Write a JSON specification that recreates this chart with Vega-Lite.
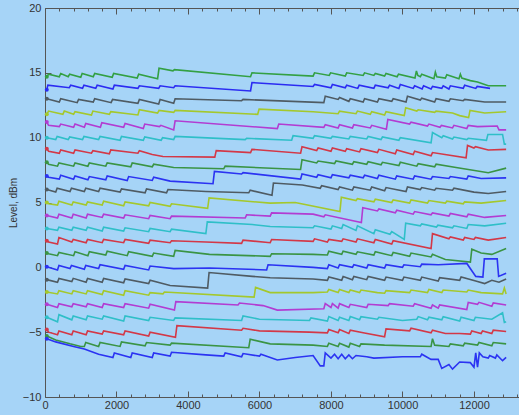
{
"$schema":"https://vega.github.io/schema/vega-lite/v6.json",
"autosize":{"type":"none"},
"padding":{"left":45,"top":8,"right":0,"bottom":18},
"width":474,"height":389,
"background":"#a6d4f7",
"config":{"view":{"stroke":null},"axis":{"domainColor":"#555","tickColor":"#555","labelColor":"#333","labelFont":"Liberation Sans","labelFontSize":11,"grid":false,"titleFont":"Liberation Sans","titleFontWeight":"normal","titleFontSize":10,"titleColor":"#333"}},
"data":{"values":[
{"s":"s01","x":50,"y":14.7},{"s":"s01","x":100,"y":14.9},{"s":"s01","x":400,"y":14.7},{"s":"s01","x":440,"y":14.95},{"s":"s01","x":650,"y":14.7},{"s":"s01","x":690,"y":14.9},{"s":"s01","x":1000,"y":14.65},{"s":"s01","x":1040,"y":14.95},{"s":"s01","x":1350,"y":14.7},{"s":"s01","x":1390,"y":14.95},{"s":"s01","x":1880,"y":14.65},{"s":"s01","x":1920,"y":14.95},{"s":"s01","x":2580,"y":14.6},{"s":"s01","x":2620,"y":14.9},{"s":"s01","x":3150,"y":14.55},{"s":"s01","x":3190,"y":15.35},{"s":"s01","x":3580,"y":15.15},{"s":"s01","x":3620,"y":15.25},{"s":"s01","x":5750,"y":14.7},{"s":"s01","x":5790,"y":15.0},{"s":"s01","x":7500,"y":14.75},{"s":"s01","x":7540,"y":15.0},{"s":"s01","x":7950,"y":14.8},{"s":"s01","x":7990,"y":15.0},{"s":"s01","x":8400,"y":14.75},{"s":"s01","x":8440,"y":15.0},{"s":"s01","x":8900,"y":14.8},{"s":"s01","x":8940,"y":15.0},{"s":"s01","x":9200,"y":14.8},{"s":"s01","x":9240,"y":14.95},{"s":"s01","x":9500,"y":14.75},{"s":"s01","x":9540,"y":14.95},{"s":"s01","x":9850,"y":14.7},{"s":"s01","x":9890,"y":14.9},{"s":"s01","x":10350,"y":14.6},{"s":"s01","x":10390,"y":15.15},{"s":"s01","x":10430,"y":14.8},{"s":"s01","x":10500,"y":14.7},{"s":"s01","x":10540,"y":14.9},{"s":"s01","x":10880,"y":14.55},{"s":"s01","x":10920,"y":15.05},{"s":"s01","x":10960,"y":14.7},{"s":"s01","x":11200,"y":14.6},{"s":"s01","x":11240,"y":14.85},{"s":"s01","x":11580,"y":14.55},{"s":"s01","x":11620,"y":14.9},{"s":"s01","x":11660,"y":14.6},{"s":"s01","x":11900,"y":14.4},{"s":"s01","x":12100,"y":14.3},{"s":"s01","x":12400,"y":14.0},{"s":"s01","x":12900,"y":14.0},
{"s":"s02","x":50,"y":13.7},{"s":"s02","x":80,"y":14.05},{"s":"s02","x":680,"y":13.85},{"s":"s02","x":720,"y":14.05},{"s":"s02","x":1050,"y":13.8},{"s":"s02","x":1090,"y":14.05},{"s":"s02","x":1420,"y":13.8},{"s":"s02","x":1460,"y":14.05},{"s":"s02","x":1900,"y":13.75},{"s":"s02","x":1940,"y":14.05},{"s":"s02","x":2600,"y":13.8},{"s":"s02","x":2640,"y":14.0},{"s":"s02","x":3180,"y":13.8},{"s":"s02","x":3220,"y":14.0},{"s":"s02","x":3600,"y":13.85},{"s":"s02","x":3640,"y":14.0},{"s":"s02","x":5750,"y":13.6},{"s":"s02","x":5790,"y":14.25},{"s":"s02","x":7500,"y":13.95},{"s":"s02","x":7540,"y":14.1},{"s":"s02","x":8000,"y":13.85},{"s":"s02","x":8040,"y":14.1},{"s":"s02","x":8400,"y":13.85},{"s":"s02","x":8440,"y":14.05},{"s":"s02","x":8750,"y":13.8},{"s":"s02","x":8790,"y":14.05},{"s":"s02","x":9200,"y":13.8},{"s":"s02","x":9240,"y":14.05},{"s":"s02","x":9600,"y":13.85},{"s":"s02","x":9640,"y":14.05},{"s":"s02","x":9900,"y":13.8},{"s":"s02","x":9940,"y":14.1},{"s":"s02","x":10300,"y":13.8},{"s":"s02","x":10340,"y":14.0},{"s":"s02","x":10550,"y":13.75},{"s":"s02","x":10590,"y":14.0},{"s":"s02","x":10800,"y":13.75},{"s":"s02","x":10840,"y":13.95},{"s":"s02","x":11100,"y":13.8},{"s":"s02","x":11140,"y":14.0},{"s":"s02","x":11300,"y":13.75},{"s":"s02","x":11340,"y":14.0},{"s":"s02","x":11700,"y":13.8},{"s":"s02","x":11740,"y":14.05},{"s":"s02","x":12050,"y":13.8},{"s":"s02","x":12090,"y":13.95},{"s":"s02","x":12450,"y":13.8},
{"s":"s03","x":50,"y":13.0},{"s":"s03","x":400,"y":12.75},{"s":"s03","x":440,"y":13.0},{"s":"s03","x":900,"y":12.7},{"s":"s03","x":940,"y":12.95},{"s":"s03","x":1350,"y":12.75},{"s":"s03","x":1390,"y":13.0},{"s":"s03","x":1850,"y":12.7},{"s":"s03","x":1890,"y":12.95},{"s":"s03","x":2600,"y":12.65},{"s":"s03","x":2640,"y":12.95},{"s":"s03","x":3180,"y":12.6},{"s":"s03","x":3220,"y":12.95},{"s":"s03","x":3600,"y":12.65},{"s":"s03","x":3640,"y":13.0},{"s":"s03","x":5500,"y":12.85},{"s":"s03","x":5540,"y":12.95},{"s":"s03","x":7800,"y":12.7},{"s":"s03","x":7840,"y":13.2},{"s":"s03","x":8200,"y":12.95},{"s":"s03","x":8240,"y":13.1},{"s":"s03","x":8500,"y":12.8},{"s":"s03","x":8540,"y":13.0},{"s":"s03","x":8900,"y":12.75},{"s":"s03","x":8940,"y":13.0},{"s":"s03","x":9300,"y":12.75},{"s":"s03","x":9340,"y":13.0},{"s":"s03","x":9700,"y":12.8},{"s":"s03","x":9740,"y":13.0},{"s":"s03","x":10100,"y":12.75},{"s":"s03","x":10140,"y":13.2},{"s":"s03","x":10500,"y":12.9},{"s":"s03","x":10540,"y":13.05},{"s":"s03","x":10900,"y":12.75},{"s":"s03","x":10940,"y":13.0},{"s":"s03","x":11300,"y":12.8},{"s":"s03","x":11340,"y":13.0},{"s":"s03","x":11700,"y":12.85},{"s":"s03","x":11740,"y":12.95},{"s":"s03","x":12300,"y":12.75},{"s":"s03","x":12900,"y":12.75},
{"s":"s04","x":50,"y":11.8},{"s":"s04","x":100,"y":12.05},{"s":"s04","x":500,"y":11.8},{"s":"s04","x":540,"y":12.05},{"s":"s04","x":800,"y":11.8},{"s":"s04","x":840,"y":12.0},{"s":"s04","x":1300,"y":11.75},{"s":"s04","x":1340,"y":12.05},{"s":"s04","x":1800,"y":11.8},{"s":"s04","x":1840,"y":12.0},{"s":"s04","x":2600,"y":11.75},{"s":"s04","x":2640,"y":12.15},{"s":"s04","x":3150,"y":11.9},{"s":"s04","x":3190,"y":12.1},{"s":"s04","x":3600,"y":11.95},{"s":"s04","x":3640,"y":12.1},{"s":"s04","x":5950,"y":11.8},{"s":"s04","x":5990,"y":12.2},{"s":"s04","x":7500,"y":12.0},{"s":"s04","x":8200,"y":11.85},{"s":"s04","x":8240,"y":12.05},{"s":"s04","x":8700,"y":11.85},{"s":"s04","x":8740,"y":12.05},{"s":"s04","x":9100,"y":11.8},{"s":"s04","x":9140,"y":12.0},{"s":"s04","x":9500,"y":11.75},{"s":"s04","x":9540,"y":12.0},{"s":"s04","x":10050,"y":11.7},{"s":"s04","x":10090,"y":12.3},{"s":"s04","x":10400,"y":12.05},{"s":"s04","x":10440,"y":12.15},{"s":"s04","x":10900,"y":11.95},{"s":"s04","x":10940,"y":12.05},{"s":"s04","x":11400,"y":11.9},{"s":"s04","x":11600,"y":11.7},{"s":"s04","x":11850,"y":11.55},{"s":"s04","x":11890,"y":12.1},{"s":"s04","x":12300,"y":11.9},{"s":"s04","x":12900,"y":12.0},
{"s":"s05","x":50,"y":11.2},{"s":"s05","x":100,"y":10.95},{"s":"s05","x":400,"y":10.85},{"s":"s05","x":440,"y":11.05},{"s":"s05","x":800,"y":10.8},{"s":"s05","x":840,"y":11.05},{"s":"s05","x":1100,"y":10.8},{"s":"s05","x":1140,"y":11.1},{"s":"s05","x":1550,"y":10.8},{"s":"s05","x":1590,"y":11.15},{"s":"s05","x":2200,"y":10.8},{"s":"s05","x":2240,"y":11.1},{"s":"s05","x":2750,"y":10.7},{"s":"s05","x":2790,"y":11.05},{"s":"s05","x":3200,"y":10.85},{"s":"s05","x":3240,"y":10.95},{"s":"s05","x":3600,"y":10.6},{"s":"s05","x":3640,"y":11.3},{"s":"s05","x":6500,"y":10.7},{"s":"s05","x":6540,"y":11.05},{"s":"s05","x":7800,"y":10.8},{"s":"s05","x":7840,"y":11.0},{"s":"s05","x":8200,"y":10.75},{"s":"s05","x":8240,"y":11.0},{"s":"s05","x":8600,"y":10.75},{"s":"s05","x":8640,"y":11.0},{"s":"s05","x":9100,"y":10.75},{"s":"s05","x":9140,"y":10.95},{"s":"s05","x":9550,"y":10.65},{"s":"s05","x":9590,"y":11.4},{"s":"s05","x":10200,"y":11.05},{"s":"s05","x":10240,"y":11.2},{"s":"s05","x":10700,"y":10.9},{"s":"s05","x":10740,"y":11.05},{"s":"s05","x":11050,"y":10.8},{"s":"s05","x":11090,"y":10.95},{"s":"s05","x":11400,"y":10.75},{"s":"s05","x":11440,"y":10.95},{"s":"s05","x":11800,"y":10.7},{"s":"s05","x":11840,"y":10.95},{"s":"s05","x":12100,"y":10.85},{"s":"s05","x":12650,"y":10.9},{"s":"s05","x":12700,"y":10.6},{"s":"s05","x":12900,"y":10.6},
{"s":"s06","x":50,"y":10.0},{"s":"s06","x":300,"y":9.85},{"s":"s06","x":340,"y":10.1},{"s":"s06","x":650,"y":9.85},{"s":"s06","x":690,"y":10.05},{"s":"s06","x":1050,"y":9.85},{"s":"s06","x":1090,"y":10.1},{"s":"s06","x":1500,"y":9.85},{"s":"s06","x":1540,"y":10.1},{"s":"s06","x":2100,"y":9.8},{"s":"s06","x":2140,"y":10.1},{"s":"s06","x":2750,"y":9.8},{"s":"s06","x":2790,"y":10.05},{"s":"s06","x":3250,"y":9.8},{"s":"s06","x":3290,"y":10.0},{"s":"s06","x":3600,"y":9.85},{"s":"s06","x":3640,"y":10.1},{"s":"s06","x":5600,"y":9.85},{"s":"s06","x":5640,"y":9.95},{"s":"s06","x":6900,"y":9.8},{"s":"s06","x":6940,"y":10.15},{"s":"s06","x":7500,"y":9.95},{"s":"s06","x":7540,"y":10.15},{"s":"s06","x":8000,"y":9.95},{"s":"s06","x":8040,"y":10.1},{"s":"s06","x":8500,"y":9.9},{"s":"s06","x":8540,"y":10.1},{"s":"s06","x":9000,"y":9.9},{"s":"s06","x":9040,"y":10.1},{"s":"s06","x":9400,"y":9.85},{"s":"s06","x":9440,"y":10.05},{"s":"s06","x":9900,"y":9.8},{"s":"s06","x":9940,"y":10.0},{"s":"s06","x":10800,"y":9.6},{"s":"s06","x":10840,"y":10.4},{"s":"s06","x":11100,"y":10.0},{"s":"s06","x":11140,"y":10.15},{"s":"s06","x":11400,"y":9.9},{"s":"s06","x":11440,"y":10.05},{"s":"s06","x":11800,"y":9.85},{"s":"s06","x":11840,"y":9.95},{"s":"s06","x":12350,"y":9.8},{"s":"s06","x":12390,"y":10.25},{"s":"s06","x":12800,"y":10.25},{"s":"s06","x":12850,"y":9.5},{"s":"s06","x":12900,"y":9.5},
{"s":"s07","x":50,"y":9.15},{"s":"s07","x":100,"y":8.95},{"s":"s07","x":400,"y":8.8},{"s":"s07","x":440,"y":9.05},{"s":"s07","x":800,"y":8.8},{"s":"s07","x":840,"y":9.05},{"s":"s07","x":1300,"y":8.8},{"s":"s07","x":1340,"y":9.0},{"s":"s07","x":1800,"y":8.75},{"s":"s07","x":1840,"y":9.05},{"s":"s07","x":2600,"y":8.8},{"s":"s07","x":2640,"y":9.0},{"s":"s07","x":3000,"y":8.7},{"s":"s07","x":3300,"y":8.55},{"s":"s07","x":4750,"y":8.5},{"s":"s07","x":4790,"y":9.0},{"s":"s07","x":5750,"y":8.85},{"s":"s07","x":5790,"y":9.1},{"s":"s07","x":7150,"y":8.8},{"s":"s07","x":7190,"y":9.3},{"s":"s07","x":7600,"y":9.0},{"s":"s07","x":7640,"y":9.2},{"s":"s07","x":8000,"y":8.95},{"s":"s07","x":8040,"y":9.2},{"s":"s07","x":8400,"y":8.95},{"s":"s07","x":8440,"y":9.15},{"s":"s07","x":8800,"y":8.9},{"s":"s07","x":8840,"y":9.15},{"s":"s07","x":9300,"y":8.85},{"s":"s07","x":9340,"y":9.1},{"s":"s07","x":9800,"y":8.75},{"s":"s07","x":9840,"y":9.05},{"s":"s07","x":10300,"y":8.7},{"s":"s07","x":10340,"y":8.95},{"s":"s07","x":10800,"y":8.6},{"s":"s07","x":10840,"y":8.85},{"s":"s07","x":11780,"y":8.45},{"s":"s07","x":11820,"y":9.4},{"s":"s07","x":12000,"y":9.2},{"s":"s07","x":12040,"y":9.3},{"s":"s07","x":12400,"y":9.05},{"s":"s07","x":12900,"y":9.1},
{"s":"s08","x":50,"y":8.1},{"s":"s08","x":100,"y":7.95},{"s":"s08","x":350,"y":7.8},{"s":"s08","x":390,"y":8.05},{"s":"s08","x":800,"y":7.8},{"s":"s08","x":840,"y":8.05},{"s":"s08","x":1200,"y":7.8},{"s":"s08","x":1240,"y":8.05},{"s":"s08","x":1700,"y":7.8},{"s":"s08","x":1740,"y":8.05},{"s":"s08","x":2400,"y":7.75},{"s":"s08","x":2440,"y":8.05},{"s":"s08","x":3000,"y":7.75},{"s":"s08","x":3040,"y":7.95},{"s":"s08","x":3600,"y":7.7},{"s":"s08","x":5000,"y":7.6},{"s":"s08","x":5040,"y":7.8},{"s":"s08","x":7150,"y":7.55},{"s":"s08","x":7190,"y":8.3},{"s":"s08","x":7600,"y":8.05},{"s":"s08","x":7640,"y":8.2},{"s":"s08","x":8100,"y":8.0},{"s":"s08","x":8140,"y":8.2},{"s":"s08","x":8600,"y":7.95},{"s":"s08","x":8640,"y":8.15},{"s":"s08","x":9000,"y":7.95},{"s":"s08","x":9040,"y":8.15},{"s":"s08","x":9400,"y":7.9},{"s":"s08","x":9440,"y":8.1},{"s":"s08","x":9900,"y":7.85},{"s":"s08","x":9940,"y":8.1},{"s":"s08","x":10400,"y":7.8},{"s":"s08","x":10440,"y":8.0},{"s":"s08","x":10900,"y":7.75},{"s":"s08","x":10940,"y":7.95},{"s":"s08","x":11500,"y":7.7},{"s":"s08","x":12400,"y":7.3},{"s":"s08","x":12900,"y":7.65},
{"s":"s09","x":50,"y":7.05},{"s":"s09","x":100,"y":6.95},{"s":"s09","x":400,"y":6.8},{"s":"s09","x":440,"y":7.1},{"s":"s09","x":800,"y":6.8},{"s":"s09","x":840,"y":7.05},{"s":"s09","x":1200,"y":6.75},{"s":"s09","x":1240,"y":7.0},{"s":"s09","x":1700,"y":6.75},{"s":"s09","x":1740,"y":7.05},{"s":"s09","x":2300,"y":6.7},{"s":"s09","x":2340,"y":7.0},{"s":"s09","x":3000,"y":6.7},{"s":"s09","x":3040,"y":6.95},{"s":"s09","x":3500,"y":6.65},{"s":"s09","x":4700,"y":6.45},{"s":"s09","x":4740,"y":7.4},{"s":"s09","x":5500,"y":7.2},{"s":"s09","x":5540,"y":7.3},{"s":"s09","x":7150,"y":6.8},{"s":"s09","x":7190,"y":7.2},{"s":"s09","x":7600,"y":6.95},{"s":"s09","x":7640,"y":7.15},{"s":"s09","x":8000,"y":6.9},{"s":"s09","x":8040,"y":7.15},{"s":"s09","x":8500,"y":6.9},{"s":"s09","x":8540,"y":7.1},{"s":"s09","x":8900,"y":6.9},{"s":"s09","x":8940,"y":7.1},{"s":"s09","x":9300,"y":6.85},{"s":"s09","x":9340,"y":7.1},{"s":"s09","x":9800,"y":6.8},{"s":"s09","x":9840,"y":7.05},{"s":"s09","x":10300,"y":6.8},{"s":"s09","x":10340,"y":7.05},{"s":"s09","x":10800,"y":6.8},{"s":"s09","x":10840,"y":7.0},{"s":"s09","x":11300,"y":6.85},{"s":"s09","x":11340,"y":7.0},{"s":"s09","x":11800,"y":6.8},{"s":"s09","x":11840,"y":7.05},{"s":"s09","x":12200,"y":6.85},{"s":"s09","x":12900,"y":6.9},
{"s":"s10","x":50,"y":6.0},{"s":"s10","x":300,"y":5.8},{"s":"s10","x":340,"y":6.1},{"s":"s10","x":700,"y":5.85},{"s":"s10","x":740,"y":6.1},{"s":"s10","x":1100,"y":5.85},{"s":"s10","x":1140,"y":6.1},{"s":"s10","x":1500,"y":5.85},{"s":"s10","x":1540,"y":6.1},{"s":"s10","x":2100,"y":5.8},{"s":"s10","x":2140,"y":6.05},{"s":"s10","x":2800,"y":5.75},{"s":"s10","x":2840,"y":6.05},{"s":"s10","x":3400,"y":5.75},{"s":"s10","x":3440,"y":6.0},{"s":"s10","x":4500,"y":5.85},{"s":"s10","x":5700,"y":5.75},{"s":"s10","x":5740,"y":5.95},{"s":"s10","x":6350,"y":5.55},{"s":"s10","x":6390,"y":6.5},{"s":"s10","x":7200,"y":6.35},{"s":"s10","x":7700,"y":6.1},{"s":"s10","x":7740,"y":6.3},{"s":"s10","x":8200,"y":6.0},{"s":"s10","x":8240,"y":6.2},{"s":"s10","x":8600,"y":5.95},{"s":"s10","x":8640,"y":6.2},{"s":"s10","x":9100,"y":5.95},{"s":"s10","x":9140,"y":6.2},{"s":"s10","x":9500,"y":5.9},{"s":"s10","x":9540,"y":6.15},{"s":"s10","x":10100,"y":5.85},{"s":"s10","x":10140,"y":6.2},{"s":"s10","x":10500,"y":6.0},{"s":"s10","x":10540,"y":6.15},{"s":"s10","x":10900,"y":5.95},{"s":"s10","x":10940,"y":6.1},{"s":"s10","x":11400,"y":5.95},{"s":"s10","x":11440,"y":6.1},{"s":"s10","x":12000,"y":5.8},{"s":"s10","x":12400,"y":5.7},{"s":"s10","x":12900,"y":5.85},
{"s":"s11","x":50,"y":5.0},{"s":"s11","x":100,"y":4.9},{"s":"s11","x":350,"y":4.8},{"s":"s11","x":390,"y":5.1},{"s":"s11","x":750,"y":4.8},{"s":"s11","x":790,"y":5.05},{"s":"s11","x":1150,"y":4.8},{"s":"s11","x":1190,"y":5.05},{"s":"s11","x":1600,"y":4.8},{"s":"s11","x":1640,"y":5.1},{"s":"s11","x":2200,"y":4.75},{"s":"s11","x":2240,"y":5.05},{"s":"s11","x":2900,"y":4.75},{"s":"s11","x":2940,"y":5.0},{"s":"s11","x":3500,"y":4.7},{"s":"s11","x":3540,"y":4.9},{"s":"s11","x":4550,"y":4.55},{"s":"s11","x":4590,"y":5.35},{"s":"s11","x":6300,"y":4.95},{"s":"s11","x":7000,"y":5.0},{"s":"s11","x":8250,"y":4.3},{"s":"s11","x":8290,"y":5.4},{"s":"s11","x":8700,"y":5.15},{"s":"s11","x":8740,"y":5.3},{"s":"s11","x":9200,"y":5.05},{"s":"s11","x":9240,"y":5.25},{"s":"s11","x":9700,"y":5.0},{"s":"s11","x":9740,"y":5.2},{"s":"s11","x":10200,"y":4.95},{"s":"s11","x":10240,"y":5.2},{"s":"s11","x":10700,"y":4.95},{"s":"s11","x":10740,"y":5.15},{"s":"s11","x":11200,"y":4.95},{"s":"s11","x":11240,"y":5.1},{"s":"s11","x":11700,"y":4.9},{"s":"s11","x":11740,"y":5.05},{"s":"s11","x":12200,"y":4.95},{"s":"s11","x":12900,"y":5.15},
{"s":"s12","x":50,"y":4.0},{"s":"s12","x":350,"y":3.8},{"s":"s12","x":390,"y":4.1},{"s":"s12","x":750,"y":3.8},{"s":"s12","x":790,"y":4.1},{"s":"s12","x":1150,"y":3.8},{"s":"s12","x":1190,"y":4.1},{"s":"s12","x":1600,"y":3.85},{"s":"s12","x":1640,"y":4.1},{"s":"s12","x":2200,"y":3.8},{"s":"s12","x":2240,"y":4.05},{"s":"s12","x":2900,"y":3.75},{"s":"s12","x":2940,"y":4.0},{"s":"s12","x":3500,"y":3.75},{"s":"s12","x":3540,"y":3.95},{"s":"s12","x":5600,"y":3.8},{"s":"s12","x":5640,"y":4.05},{"s":"s12","x":6300,"y":3.95},{"s":"s12","x":6340,"y":4.2},{"s":"s12","x":7500,"y":4.1},{"s":"s12","x":7800,"y":3.9},{"s":"s12","x":7840,"y":4.05},{"s":"s12","x":8850,"y":3.45},{"s":"s12","x":8890,"y":4.6},{"s":"s12","x":9300,"y":4.35},{"s":"s12","x":9340,"y":4.5},{"s":"s12","x":9800,"y":4.2},{"s":"s12","x":9840,"y":4.4},{"s":"s12","x":10300,"y":4.1},{"s":"s12","x":10340,"y":4.3},{"s":"s12","x":10800,"y":4.05},{"s":"s12","x":10840,"y":4.2},{"s":"s12","x":11300,"y":3.95},{"s":"s12","x":11340,"y":4.15},{"s":"s12","x":11800,"y":3.9},{"s":"s12","x":11840,"y":4.1},{"s":"s12","x":12300,"y":3.85},{"s":"s12","x":12900,"y":4.0},
{"s":"s13","x":50,"y":3.0},{"s":"s13","x":350,"y":2.85},{"s":"s13","x":390,"y":3.1},{"s":"s13","x":750,"y":2.85},{"s":"s13","x":790,"y":3.1},{"s":"s13","x":1150,"y":2.85},{"s":"s13","x":1190,"y":3.1},{"s":"s13","x":1600,"y":2.8},{"s":"s13","x":1640,"y":3.1},{"s":"s13","x":2200,"y":2.8},{"s":"s13","x":2240,"y":3.05},{"s":"s13","x":2900,"y":2.75},{"s":"s13","x":2940,"y":3.0},{"s":"s13","x":3500,"y":2.75},{"s":"s13","x":3540,"y":2.95},{"s":"s13","x":4500,"y":2.6},{"s":"s13","x":4540,"y":3.5},{"s":"s13","x":5800,"y":3.3},{"s":"s13","x":6300,"y":3.15},{"s":"s13","x":7500,"y":3.05},{"s":"s13","x":7540,"y":3.2},{"s":"s13","x":8000,"y":2.95},{"s":"s13","x":8040,"y":3.2},{"s":"s13","x":8300,"y":3.0},{"s":"s13","x":8340,"y":3.3},{"s":"s13","x":8700,"y":2.85},{"s":"s13","x":8740,"y":3.2},{"s":"s13","x":9200,"y":2.6},{"s":"s13","x":9240,"y":2.9},{"s":"s13","x":9650,"y":2.55},{"s":"s13","x":9700,"y":2.75},{"s":"s13","x":10050,"y":2.15},{"s":"s13","x":10090,"y":3.4},{"s":"s13","x":10500,"y":3.2},{"s":"s13","x":10540,"y":3.35},{"s":"s13","x":10950,"y":3.1},{"s":"s13","x":10990,"y":3.25},{"s":"s13","x":11400,"y":3.05},{"s":"s13","x":11440,"y":3.2},{"s":"s13","x":11800,"y":3.0},{"s":"s13","x":11840,"y":3.3},{"s":"s13","x":12300,"y":3.2},{"s":"s13","x":12900,"y":3.4},
{"s":"s14","x":50,"y":2.05},{"s":"s14","x":100,"y":1.95},{"s":"s14","x":350,"y":1.8},{"s":"s14","x":390,"y":2.3},{"s":"s14","x":750,"y":1.95},{"s":"s14","x":790,"y":2.15},{"s":"s14","x":1150,"y":1.9},{"s":"s14","x":1190,"y":2.15},{"s":"s14","x":1600,"y":1.9},{"s":"s14","x":1640,"y":2.15},{"s":"s14","x":2200,"y":1.9},{"s":"s14","x":2240,"y":2.15},{"s":"s14","x":2900,"y":1.85},{"s":"s14","x":2940,"y":2.1},{"s":"s14","x":3500,"y":1.9},{"s":"s14","x":3540,"y":2.05},{"s":"s14","x":4500,"y":1.95},{"s":"s14","x":5500,"y":1.85},{"s":"s14","x":5540,"y":2.1},{"s":"s14","x":6300,"y":1.9},{"s":"s14","x":6340,"y":2.15},{"s":"s14","x":7500,"y":2.0},{"s":"s14","x":7540,"y":2.2},{"s":"s14","x":7900,"y":1.95},{"s":"s14","x":7940,"y":2.15},{"s":"s14","x":8300,"y":2.0},{"s":"s14","x":8340,"y":2.2},{"s":"s14","x":8700,"y":1.95},{"s":"s14","x":8740,"y":2.2},{"s":"s14","x":9200,"y":1.9},{"s":"s14","x":9240,"y":2.15},{"s":"s14","x":9700,"y":1.8},{"s":"s14","x":9740,"y":2.05},{"s":"s14","x":10800,"y":1.45},{"s":"s14","x":10840,"y":2.6},{"s":"s14","x":11300,"y":2.2},{"s":"s14","x":11340,"y":2.35},{"s":"s14","x":11700,"y":2.1},{"s":"s14","x":11740,"y":2.3},{"s":"s14","x":12000,"y":2.15},{"s":"s14","x":12040,"y":2.3},{"s":"s14","x":12400,"y":2.1},{"s":"s14","x":12900,"y":2.3},
{"s":"s15","x":50,"y":1.1},{"s":"s15","x":100,"y":1.05},{"s":"s15","x":350,"y":0.9},{"s":"s15","x":390,"y":1.15},{"s":"s15","x":800,"y":0.9},{"s":"s15","x":840,"y":1.2},{"s":"s15","x":1200,"y":0.9},{"s":"s15","x":1240,"y":1.2},{"s":"s15","x":1700,"y":0.95},{"s":"s15","x":1740,"y":1.25},{"s":"s15","x":2300,"y":0.9},{"s":"s15","x":2340,"y":1.2},{"s":"s15","x":3000,"y":0.85},{"s":"s15","x":3040,"y":1.1},{"s":"s15","x":3600,"y":0.85},{"s":"s15","x":3640,"y":1.3},{"s":"s15","x":4600,"y":1.0},{"s":"s15","x":6300,"y":0.85},{"s":"s15","x":6340,"y":1.05},{"s":"s15","x":7500,"y":1.0},{"s":"s15","x":7900,"y":0.95},{"s":"s15","x":7940,"y":1.25},{"s":"s15","x":8300,"y":1.0},{"s":"s15","x":8340,"y":1.25},{"s":"s15","x":8700,"y":1.0},{"s":"s15","x":8740,"y":1.2},{"s":"s15","x":9200,"y":0.95},{"s":"s15","x":9240,"y":1.2},{"s":"s15","x":9700,"y":0.9},{"s":"s15","x":9740,"y":1.15},{"s":"s15","x":10200,"y":0.85},{"s":"s15","x":10240,"y":1.1},{"s":"s15","x":10800,"y":0.8},{"s":"s15","x":10840,"y":1.0},{"s":"s15","x":11200,"y":0.6},{"s":"s15","x":11900,"y":0.4},{"s":"s15","x":11940,"y":1.4},{"s":"s15","x":12200,"y":1.1},{"s":"s15","x":12500,"y":1.0},{"s":"s15","x":12900,"y":1.45},
{"s":"s16","x":50,"y":0.05},{"s":"s16","x":350,"y":-0.2},{"s":"s16","x":390,"y":0.15},{"s":"s16","x":700,"y":-0.1},{"s":"s16","x":740,"y":0.15},{"s":"s16","x":1100,"y":-0.15},{"s":"s16","x":1140,"y":0.15},{"s":"s16","x":1500,"y":-0.1},{"s":"s16","x":1540,"y":0.2},{"s":"s16","x":2200,"y":-0.15},{"s":"s16","x":2240,"y":0.15},{"s":"s16","x":2900,"y":-0.2},{"s":"s16","x":2940,"y":0.1},{"s":"s16","x":3600,"y":-0.1},{"s":"s16","x":4600,"y":-0.05},{"s":"s16","x":6200,"y":-0.2},{"s":"s16","x":6240,"y":0.2},{"s":"s16","x":7500,"y":0.0},{"s":"s16","x":7900,"y":-0.1},{"s":"s16","x":7940,"y":0.2},{"s":"s16","x":8200,"y":-0.05},{"s":"s16","x":8240,"y":0.2},{"s":"s16","x":8600,"y":0.0},{"s":"s16","x":8640,"y":0.2},{"s":"s16","x":9000,"y":-0.05},{"s":"s16","x":9040,"y":0.2},{"s":"s16","x":9500,"y":-0.05},{"s":"s16","x":9540,"y":0.2},{"s":"s16","x":10000,"y":0.0},{"s":"s16","x":10040,"y":0.2},{"s":"s16","x":10500,"y":0.05},{"s":"s16","x":10540,"y":0.25},{"s":"s16","x":11000,"y":0.2},{"s":"s16","x":11800,"y":0.3},{"s":"s16","x":12050,"y":-0.7},{"s":"s16","x":12250,"y":-0.75},{"s":"s16","x":12290,"y":0.65},{"s":"s16","x":12650,"y":0.65},{"s":"s16","x":12690,"y":-0.7},{"s":"s16","x":12900,"y":-0.45},
{"s":"s17","x":50,"y":-0.95},{"s":"s17","x":350,"y":-1.15},{"s":"s17","x":390,"y":-0.85},{"s":"s17","x":750,"y":-1.1},{"s":"s17","x":790,"y":-0.85},{"s":"s17","x":1150,"y":-1.15},{"s":"s17","x":1190,"y":-0.85},{"s":"s17","x":1600,"y":-1.15},{"s":"s17","x":1640,"y":-0.85},{"s":"s17","x":2200,"y":-1.2},{"s":"s17","x":2240,"y":-0.9},{"s":"s17","x":2900,"y":-1.25},{"s":"s17","x":2940,"y":-1.0},{"s":"s17","x":3500,"y":-1.4},{"s":"s17","x":4550,"y":-1.6},{"s":"s17","x":4590,"y":-0.4},{"s":"s17","x":5800,"y":-0.7},{"s":"s17","x":6300,"y":-0.8},{"s":"s17","x":7500,"y":-0.9},{"s":"s17","x":7900,"y":-1.0},{"s":"s17","x":7940,"y":-0.75},{"s":"s17","x":8300,"y":-1.0},{"s":"s17","x":8340,"y":-0.7},{"s":"s17","x":8600,"y":-0.95},{"s":"s17","x":8640,"y":-0.7},{"s":"s17","x":9000,"y":-0.95},{"s":"s17","x":9040,"y":-0.7},{"s":"s17","x":9500,"y":-1.0},{"s":"s17","x":9540,"y":-0.75},{"s":"s17","x":10000,"y":-1.0},{"s":"s17","x":10040,"y":-0.75},{"s":"s17","x":10500,"y":-1.0},{"s":"s17","x":10540,"y":-0.75},{"s":"s17","x":11000,"y":-1.05},{"s":"s17","x":11040,"y":-0.8},{"s":"s17","x":11600,"y":-1.0},{"s":"s17","x":11640,"y":-0.75},{"s":"s17","x":12050,"y":-1.05},{"s":"s17","x":12300,"y":-1.25},{"s":"s17","x":12500,"y":-1.0},{"s":"s17","x":12700,"y":-1.15},{"s":"s17","x":12900,"y":-0.9},
{"s":"s18","x":50,"y":-1.9},{"s":"s18","x":350,"y":-2.05},{"s":"s18","x":390,"y":-1.8},{"s":"s18","x":750,"y":-2.05},{"s":"s18","x":790,"y":-1.8},{"s":"s18","x":1150,"y":-2.05},{"s":"s18","x":1190,"y":-1.8},{"s":"s18","x":1600,"y":-2.1},{"s":"s18","x":1640,"y":-1.8},{"s":"s18","x":2200,"y":-2.15},{"s":"s18","x":2240,"y":-1.8},{"s":"s18","x":2900,"y":-2.15},{"s":"s18","x":2940,"y":-1.95},{"s":"s18","x":3300,"y":-2.05},{"s":"s18","x":3340,"y":-1.9},{"s":"s18","x":5850,"y":-2.3},{"s":"s18","x":5890,"y":-1.55},{"s":"s18","x":6300,"y":-1.95},{"s":"s18","x":7500,"y":-1.95},{"s":"s18","x":7900,"y":-1.9},{"s":"s18","x":7940,"y":-1.7},{"s":"s18","x":8200,"y":-1.95},{"s":"s18","x":8240,"y":-1.7},{"s":"s18","x":8500,"y":-1.95},{"s":"s18","x":8540,"y":-1.75},{"s":"s18","x":8800,"y":-1.95},{"s":"s18","x":8840,"y":-1.75},{"s":"s18","x":9300,"y":-1.95},{"s":"s18","x":9500,"y":-2.0},{"s":"s18","x":9540,"y":-1.8},{"s":"s18","x":10200,"y":-1.95},{"s":"s18","x":10240,"y":-1.75},{"s":"s18","x":10700,"y":-1.95},{"s":"s18","x":10740,"y":-1.7},{"s":"s18","x":11100,"y":-1.95},{"s":"s18","x":11140,"y":-1.75},{"s":"s18","x":11800,"y":-1.9},{"s":"s18","x":11840,"y":-1.75},{"s":"s18","x":12200,"y":-1.95},{"s":"s18","x":12800,"y":-2.05},{"s":"s18","x":12850,"y":-1.6},{"s":"s18","x":12900,"y":-2.05},
{"s":"s19","x":50,"y":-2.85},{"s":"s19","x":350,"y":-3.1},{"s":"s19","x":390,"y":-2.8},{"s":"s19","x":750,"y":-3.05},{"s":"s19","x":790,"y":-2.8},{"s":"s19","x":1150,"y":-3.05},{"s":"s19","x":1190,"y":-2.8},{"s":"s19","x":1600,"y":-3.1},{"s":"s19","x":1640,"y":-2.8},{"s":"s19","x":2200,"y":-3.1},{"s":"s19","x":2240,"y":-2.8},{"s":"s19","x":2900,"y":-3.15},{"s":"s19","x":2940,"y":-2.85},{"s":"s19","x":3620,"y":-3.3},{"s":"s19","x":3660,"y":-2.65},{"s":"s19","x":5400,"y":-2.9},{"s":"s19","x":5440,"y":-2.75},{"s":"s19","x":6100,"y":-2.95},{"s":"s19","x":6500,"y":-3.3},{"s":"s19","x":7800,"y":-3.2},{"s":"s19","x":7840,"y":-2.8},{"s":"s19","x":8000,"y":-3.1},{"s":"s19","x":8040,"y":-2.8},{"s":"s19","x":8200,"y":-3.15},{"s":"s19","x":8240,"y":-2.8},{"s":"s19","x":8500,"y":-3.1},{"s":"s19","x":8540,"y":-2.85},{"s":"s19","x":9000,"y":-3.1},{"s":"s19","x":9040,"y":-2.85},{"s":"s19","x":9600,"y":-2.95},{"s":"s19","x":9640,"y":-2.8},{"s":"s19","x":10300,"y":-3.0},{"s":"s19","x":10340,"y":-2.8},{"s":"s19","x":10800,"y":-3.15},{"s":"s19","x":10840,"y":-2.9},{"s":"s19","x":11000,"y":-3.15},{"s":"s19","x":11040,"y":-2.9},{"s":"s19","x":11800,"y":-3.25},{"s":"s19","x":11840,"y":-2.7},{"s":"s19","x":12100,"y":-2.85},{"s":"s19","x":12140,"y":-2.7},{"s":"s19","x":12500,"y":-3.0},{"s":"s19","x":12540,"y":-2.75},{"s":"s19","x":12900,"y":-2.9},
{"s":"s20","x":50,"y":-3.85},{"s":"s20","x":350,"y":-4.2},{"s":"s20","x":390,"y":-3.65},{"s":"s20","x":750,"y":-4.05},{"s":"s20","x":790,"y":-3.75},{"s":"s20","x":1150,"y":-4.05},{"s":"s20","x":1190,"y":-3.75},{"s":"s20","x":1600,"y":-4.0},{"s":"s20","x":1640,"y":-3.75},{"s":"s20","x":2200,"y":-4.15},{"s":"s20","x":2240,"y":-3.75},{"s":"s20","x":2900,"y":-4.1},{"s":"s20","x":2940,"y":-3.85},{"s":"s20","x":3600,"y":-4.1},{"s":"s20","x":3640,"y":-3.9},{"s":"s20","x":5500,"y":-4.1},{"s":"s20","x":5540,"y":-3.75},{"s":"s20","x":6000,"y":-4.0},{"s":"s20","x":7400,"y":-4.1},{"s":"s20","x":7440,"y":-3.9},{"s":"s20","x":7900,"y":-4.15},{"s":"s20","x":7940,"y":-3.8},{"s":"s20","x":8200,"y":-4.1},{"s":"s20","x":8240,"y":-3.85},{"s":"s20","x":8500,"y":-4.1},{"s":"s20","x":8540,"y":-3.8},{"s":"s20","x":8800,"y":-4.05},{"s":"s20","x":8840,"y":-3.8},{"s":"s20","x":9300,"y":-4.0},{"s":"s20","x":9340,"y":-3.85},{"s":"s20","x":10000,"y":-4.1},{"s":"s20","x":10400,"y":-4.0},{"s":"s20","x":10440,"y":-3.8},{"s":"s20","x":10700,"y":-4.05},{"s":"s20","x":10740,"y":-3.85},{"s":"s20","x":11100,"y":-4.05},{"s":"s20","x":11140,"y":-3.8},{"s":"s20","x":11600,"y":-4.15},{"s":"s20","x":11640,"y":-3.85},{"s":"s20","x":12000,"y":-4.1},{"s":"s20","x":12040,"y":-3.85},{"s":"s20","x":12500,"y":-4.0},{"s":"s20","x":12800,"y":-3.5},{"s":"s20","x":12850,"y":-4.25},{"s":"s20","x":12900,"y":-4.2},
{"s":"s21","x":50,"y":-4.8},{"s":"s21","x":100,"y":-5.0},{"s":"s21","x":350,"y":-5.2},{"s":"s21","x":390,"y":-4.9},{"s":"s21","x":750,"y":-5.2},{"s":"s21","x":790,"y":-4.9},{"s":"s21","x":1150,"y":-5.2},{"s":"s21","x":1190,"y":-4.9},{"s":"s21","x":1600,"y":-5.15},{"s":"s21","x":1640,"y":-4.9},{"s":"s21","x":2200,"y":-5.2},{"s":"s21","x":2240,"y":-4.9},{"s":"s21","x":2900,"y":-5.3},{"s":"s21","x":2940,"y":-5.0},{"s":"s21","x":3650,"y":-5.4},{"s":"s21","x":3690,"y":-4.5},{"s":"s21","x":5500,"y":-4.85},{"s":"s21","x":5540,"y":-4.7},{"s":"s21","x":6000,"y":-4.9},{"s":"s21","x":7400,"y":-5.0},{"s":"s21","x":7900,"y":-5.05},{"s":"s21","x":7940,"y":-4.8},{"s":"s21","x":8200,"y":-5.05},{"s":"s21","x":8240,"y":-4.8},{"s":"s21","x":8500,"y":-5.1},{"s":"s21","x":8540,"y":-4.85},{"s":"s21","x":8900,"y":-5.05},{"s":"s21","x":9500,"y":-5.35},{"s":"s21","x":9540,"y":-4.75},{"s":"s21","x":10200,"y":-4.9},{"s":"s21","x":10240,"y":-4.7},{"s":"s21","x":10800,"y":-5.05},{"s":"s21","x":10840,"y":-4.85},{"s":"s21","x":11200,"y":-5.1},{"s":"s21","x":11600,"y":-5.1},{"s":"s21","x":11900,"y":-5.15},{"s":"s21","x":11940,"y":-4.9},{"s":"s21","x":12200,"y":-5.1},{"s":"s21","x":12240,"y":-4.9},{"s":"s21","x":12500,"y":-5.1},{"s":"s21","x":12540,"y":-4.85},{"s":"s21","x":12900,"y":-4.95},
{"s":"s22","x":50,"y":-5.3},{"s":"s22","x":300,"y":-5.6},{"s":"s22","x":700,"y":-5.9},{"s":"s22","x":1000,"y":-6.1},{"s":"s22","x":1100,"y":-6.1},{"s":"s22","x":1140,"y":-5.8},{"s":"s22","x":1500,"y":-6.1},{"s":"s22","x":1540,"y":-5.8},{"s":"s22","x":2100,"y":-6.1},{"s":"s22","x":2140,"y":-5.75},{"s":"s22","x":2800,"y":-6.05},{"s":"s22","x":2840,"y":-5.8},{"s":"s22","x":3500,"y":-6.0},{"s":"s22","x":3540,"y":-5.85},{"s":"s22","x":5700,"y":-6.2},{"s":"s22","x":5740,"y":-5.55},{"s":"s22","x":6300,"y":-5.9},{"s":"s22","x":7500,"y":-6.0},{"s":"s22","x":7900,"y":-6.1},{"s":"s22","x":7940,"y":-5.85},{"s":"s22","x":8200,"y":-6.1},{"s":"s22","x":8240,"y":-5.85},{"s":"s22","x":8500,"y":-6.15},{"s":"s22","x":8540,"y":-5.85},{"s":"s22","x":8800,"y":-6.1},{"s":"s22","x":8840,"y":-5.9},{"s":"s22","x":9500,"y":-6.0},{"s":"s22","x":10800,"y":-6.1},{"s":"s22","x":10840,"y":-5.5},{"s":"s22","x":10900,"y":-6.0},{"s":"s22","x":11300,"y":-6.1},{"s":"s22","x":11340,"y":-5.9},{"s":"s22","x":11700,"y":-6.05},{"s":"s22","x":11740,"y":-5.85},{"s":"s22","x":12100,"y":-6.0},{"s":"s22","x":12140,"y":-5.8},{"s":"s22","x":12500,"y":-6.05},{"s":"s22","x":12540,"y":-5.8},{"s":"s22","x":12900,"y":-5.9},
{"s":"s23","x":50,"y":-5.5},{"s":"s23","x":300,"y":-5.75},{"s":"s23","x":800,"y":-6.1},{"s":"s23","x":1100,"y":-6.3},{"s":"s23","x":1500,"y":-6.7},{"s":"s23","x":1900,"y":-6.95},{"s":"s23","x":1940,"y":-6.6},{"s":"s23","x":2400,"y":-6.95},{"s":"s23","x":2440,"y":-6.6},{"s":"s23","x":3000,"y":-6.95},{"s":"s23","x":3040,"y":-6.6},{"s":"s23","x":3500,"y":-6.85},{"s":"s23","x":3540,"y":-6.55},{"s":"s23","x":4500,"y":-6.75},{"s":"s23","x":5000,"y":-6.85},{"s":"s23","x":5040,"y":-6.6},{"s":"s23","x":5500,"y":-6.9},{"s":"s23","x":5540,"y":-6.65},{"s":"s23","x":6000,"y":-6.85},{"s":"s23","x":6040,"y":-6.7},{"s":"s23","x":6500,"y":-7.15},{"s":"s23","x":7000,"y":-6.95},{"s":"s23","x":7500,"y":-6.8},{"s":"s23","x":7700,"y":-7.6},{"s":"s23","x":7800,"y":-7.6},{"s":"s23","x":7840,"y":-6.6},{"s":"s23","x":8000,"y":-7.0},{"s":"s23","x":8100,"y":-6.7},{"s":"s23","x":8200,"y":-7.05},{"s":"s23","x":8300,"y":-6.7},{"s":"s23","x":8400,"y":-7.05},{"s":"s23","x":8500,"y":-6.75},{"s":"s23","x":8600,"y":-7.05},{"s":"s23","x":8700,"y":-6.8},{"s":"s23","x":9000,"y":-6.9},{"s":"s23","x":9200,"y":-7.0},{"s":"s23","x":10000,"y":-6.9},{"s":"s23","x":10500,"y":-6.9},{"s":"s23","x":10540,"y":-6.7},{"s":"s23","x":10800,"y":-7.1},{"s":"s23","x":11000,"y":-7.1},{"s":"s23","x":11100,"y":-7.8},{"s":"s23","x":11300,"y":-7.5},{"s":"s23","x":11400,"y":-7.85},{"s":"s23","x":11600,"y":-7.3},{"s":"s23","x":11900,"y":-7.35},{"s":"s23","x":12000,"y":-7.7},{"s":"s23","x":12050,"y":-6.6},{"s":"s23","x":12100,"y":-7.7},{"s":"s23","x":12150,"y":-6.6},{"s":"s23","x":12250,"y":-6.9},{"s":"s23","x":12400,"y":-7.0},{"s":"s23","x":12440,"y":-6.8},{"s":"s23","x":12600,"y":-7.0},{"s":"s23","x":12640,"y":-6.75},{"s":"s23","x":12800,"y":-7.2},{"s":"s23","x":12900,"y":-6.95}
]},
"layer":[
{"mark":{"type":"line","strokeWidth":1.6},
 "encoding":{
  "x":{"field":"x","type":"quantitative","scale":{"domain":[0,13260],"nice":false,"zero":false},
   "axis":{"orient":"bottom","title":null,"values":[0,400,800,1200,1600,2000,2400,2800,3200,3600,4000,4400,4800,5200,5600,6000,6400,6800,7200,7600,8000,8400,8800,9200,9600,10000,10400,10800,11200,11600,12000,12400,12800,13200],
    "format":"d","labelExpr":"datum.value % 2000 === 0 ? datum.label : ''","labelFlush":false,"labelOverlap":false,
    "tickSize":{"condition":{"test":"datum.value % 2000 === 0","value":-6},"value":-3},"labelPadding":8}},
  "y":{"field":"y","type":"quantitative","scale":{"domain":[-10,20],"nice":false,"zero":false},
   "axis":{"orient":"left","values":[-10,-5,0,5,10,15,20],"tickSize":-6,"labelPadding":10,"title":"Level, dBm","titlePadding":4}},
  "color":{"field":"s","type":"nominal","legend":null,
   "scale":{"domain":["s01","s02","s03","s04","s05","s06","s07","s08","s09","s10","s11","s12","s13","s14","s15","s16","s17","s18","s19","s20","s21","s22","s23"],
    "range":["#33a043","#2b2bf2","#4f5b63","#a4c82c","#b23cd2","#2fbfc8","#d33847","#3a9444","#2b33f2","#4f5b63","#a4c82c","#b23cd2","#2fbfc8","#d33847","#3a9444","#2b33f2","#4f5b63","#a4c82c","#b23cd2","#2fbfc8","#d33847","#3a9444","#2b33f2"]}}
 }},
{"transform":[{"joinaggregate":[{"op":"min","field":"x","as":"x0"}],"groupby":["s"]},{"filter":"datum.x === datum.x0"}],
 "mark":{"type":"point","filled":true,"size":16,"opacity":1},
 "encoding":{
  "x":{"field":"x","type":"quantitative",
   "axis":{"orient":"top","title":null,"labels":false,"values":[0,400,800,1200,1600,2000,2400,2800,3200,3600,4000,4400,4800,5200,5600,6000,6400,6800,7200,7600,8000,8400,8800,9200,9600,10000,10400,10800,11200,11600,12000,12400,12800,13200],
    "tickSize":{"condition":{"test":"datum.value % 2000 === 0","value":-6},"value":-3}}},
  "y":{"field":"y","type":"quantitative"},
  "color":{"field":"s","type":"nominal","legend":null}
 }}
]
}
